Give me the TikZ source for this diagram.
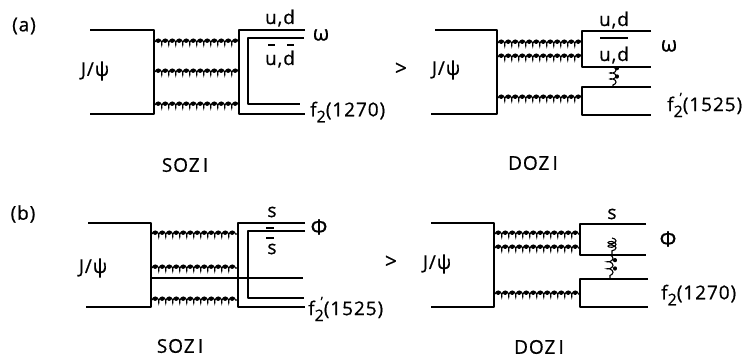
\documentclass[tikz,border=0pt]{standalone}
\usepackage{fontspec}
\setmainfont{Open Sans}[FakeBold=0.7,LetterSpace=5]
\usetikzlibrary{decorations.pathmorphing}
\tikzset{
  quark/.style={line width=1.6pt,line join=round},
  coilpart/.style={line width=1.1pt,decorate,decoration={coil,aspect=0.5,segment length=7pt,amplitude=3pt}},
  beads/.style={line width=4pt,line cap=round,dash pattern=on 0.3pt off 6.7pt},
  vbeads/.style={line width=4pt,line cap=round,dash pattern=on 0.3pt off 8pt},
  bar/.style={line width=1.3pt},
  txt/.style={inner sep=0pt,font=\fontsize{19}{21}\selectfont},
  bigtxt/.style={inner sep=0pt,font=\fontsize{21}{23}\selectfont}
}
\newcommand{\subtwo}{\raisebox{-6pt}{\fontsize{16}{16}\selectfont 2}}
\newcommand{\primed}{\rlap{\raisebox{9pt}{\fontsize{13}{13}\selectfont\hspace{6pt}'}}}
% a gluon is a coil with a row of heavy beads along its upper edge
\newcommand{\gluonH}[3]{%
  \draw[coilpart] (#1,#3) -- (#2,#3);
  \draw[beads] (#1+3,#3-1.5) -- (#2-1,#3-1.5);}
\begin{document}
\begin{tikzpicture}[x=1pt,y=-1pt]
\useasboundingbox (0,0) rectangle (746,360);
% ---- (a) SOZI
\node[txt] (la) at (24,26) {(a)};
\draw[quark] (90,30) -- (154,30) -- (154,114) -- (90,114);
\foreach \y in {42,72,105} {\gluonH{155}{239}{\y}}
\draw[quark] (305,30) -- (239,30) -- (239,114) -- (305,114);
\draw[quark] (304,38) -- (248,38) -- (248,104) -- (300,104);
\node[txt] (psia) at (95,71) {J/ψ};
\node[txt] (uda) at (280,18) {u,d};
\node[txt] (ubara) at (280,59) {u,d};
\draw[bar] (268,45) -- (275,45);
\draw[bar] (287,45) -- (294,45);
\node[bigtxt] (oma) at (321,35) {ω};
\node[txt,anchor=west] (fa) at (310,112) {f\subtwo(1270)};
\node[txt] (soa) at (185,165) {SOZ\,I};
% ---- (a) DOZI
\node[bigtxt] (gta) at (401,69) {>};
\draw[quark] (435,30) -- (497,30) -- (497,114) -- (431,114);
\foreach \y in {43,57,98} {\gluonH{498}{582}{\y}}
\draw[quark] (651,31) -- (582,31) -- (582,67) -- (651,67);
\draw[quark] (651,87) -- (582,87) -- (582,115) -- (651,115);
\draw[coilpart,decoration={segment length=6pt}] (613,67) -- (613,87);
\draw[vbeads] (617,68) -- (617,82);
\draw[quark] (600,38) -- (628,38);
\node[txt] (psib) at (446,70) {J/ψ};
\node[txt] (udb) at (614,20) {u,d};
\node[txt] (ubarb) at (614,55) {u,d};
\node[bigtxt] (omb) at (669,46) {ω};
\node[txt,anchor=west] (fb) at (667,105) {f\primed\subtwo(1525)};
\node[txt] (dob) at (533,163) {DOZ\,I};
% ---- (b) SOZI
\node[txt] (lb) at (23,214) {(b)};
\draw[quark] (88,223) -- (151,223) -- (151,307) -- (86,307);
\foreach \y in {234,268,300} {\gluonH{152}{238}{\y}}
\draw[quark] (150,278) -- (303,278);
\draw[quark] (305,223) -- (238,223) -- (238,307) -- (305,307);
\draw[quark] (305,231) -- (248,231) -- (248,298) -- (304,298);
\draw[bar] (266,228) -- (274,228);
\draw[bar] (266,238) -- (274,238);
\node[txt] (psic) at (93,268) {J/ψ};
\node[txt] (sc) at (272,212) {s};
\node[txt] (sbarc) at (272,249) {s};
\node[bigtxt] (phic) at (319,227) {Φ};
\node[txt,anchor=west] (fc) at (308,309) {f\primed\subtwo(1525)};
\node[txt] (soc) at (180,346) {SOZ\,I};
% ---- (b) DOZI
\node[bigtxt] (gtb) at (391,262) {>};
\draw[quark] (431,223) -- (494,223) -- (494,307) -- (431,307);
\foreach \y in {234,248,294} {\gluonH{495}{580}{\y}}
\draw[quark] (646,224) -- (580,224) -- (580,255) -- (646,255);
\draw[quark] (648,279) -- (580,279) -- (580,307) -- (648,307);
\draw[coilpart] (610,255) -- (610,279);
\draw[vbeads] (615,260) -- (615,274);
\draw[coilpart,decoration={amplitude=4pt,segment length=3.5pt}] (612,238) -- (612,254);
\node[txt] (psid) at (437,264) {J/ψ};
\node[txt] (sd) at (612,214) {s};
\node[bigtxt] (phid) at (668,239) {Φ};
\node[txt,anchor=west] (fd) at (661,295) {f\subtwo(1270)};
\node[txt] (dod) at (539,347) {DOZ\,I};
\end{tikzpicture}
\end{document}
